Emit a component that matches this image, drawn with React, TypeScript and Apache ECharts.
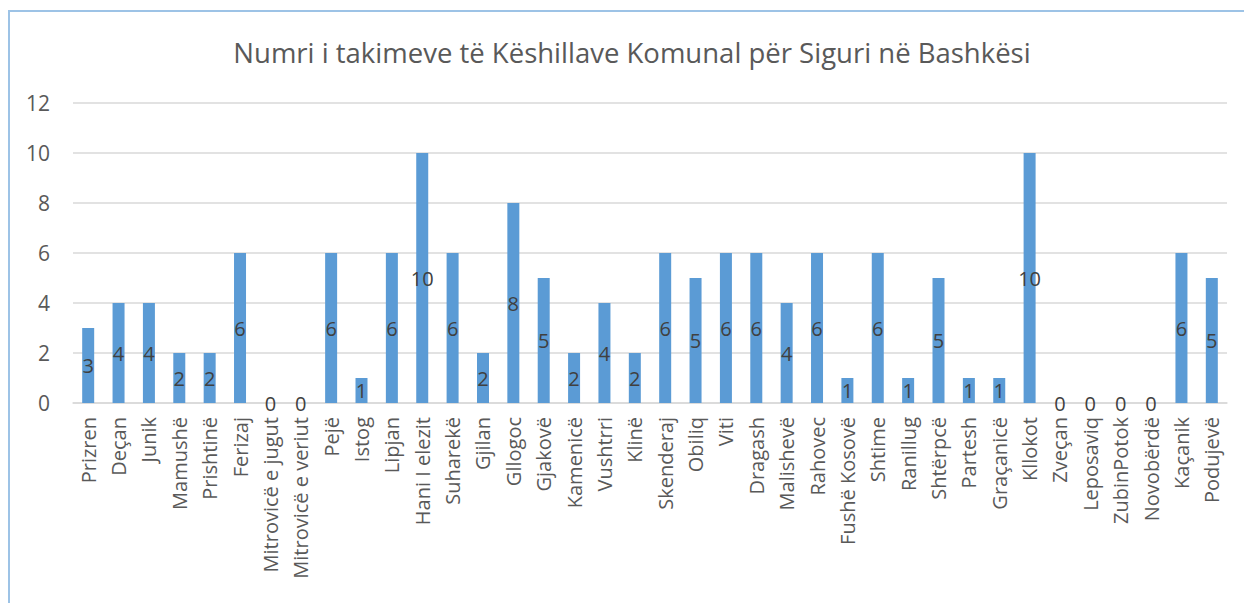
import React, { useEffect, useRef } from "react";
import * as echarts from "echarts";

const categories = [
  "Prizren", "Deçan", "Junik", "Mamushë", "Prishtinë", "Ferizaj",
  "Mitrovicë e jugut", "Mitrovicë e veriut", "Pejë", "Istog", "Lipjan",
  "Hani I elezit", "Suharekë", "Gjilan", "Gllogoc", "Gjakovë", "Kamenicë",
  "Vushtrri", "Klinë", "Skenderaj", "Obiliq", "Viti", "Dragash", "Malishevë",
  "Rahovec", "Fushë Kosovë", "Shtime", "Ranillug", "Shtërpcë", "Partesh",
  "Graçanicë", "Kllokot", "Zveçan", "Leposaviq", "ZubinPotok", "Novobërdë",
  "Kaçanik", "Podujevë",
];
const values = [
  3, 4, 4, 2, 2, 6,
  0, 0, 6, 1, 6,
  10, 6, 2, 8, 5, 2,
  4, 2, 6, 5, 6, 6, 4,
  6, 1, 6, 1, 5, 1,
  1, 10, 0, 0, 0, 0,
  6, 5,
];
const titleText = "Numri i takimeve të Këshillave Komunal për Siguri në Bashkësi";
const yMin = 0;
const yMax = 12;
const yStep = 2;

const FONT = "'Open Sans', 'Noto Sans', sans-serif";

export default function App() {
  const ref = useRef<HTMLDivElement>(null);
  useEffect(() => {
    if (!ref.current) return;
    const chart = echarts.init(ref.current, null, { renderer: "svg" });
    chart.setOption({
      animation: false,
      backgroundColor: "#ffffff",
      grid: { left: 73, right: 17, top: 103, bottom: 200, containLabel: false },
      xAxis: {
        type: "category",
        data: categories,
        axisLine: { show: true, lineStyle: { color: "#d9d9d9", width: 1.5 } },
        axisTick: { show: false },
        axisLabel: {
          rotate: 90,
          interval: 0,
          margin: 14,
          fontFamily: FONT,
          fontSize: 20,
          color: "#595959",
        },
      },
      yAxis: {
        type: "value",
        min: yMin,
        max: yMax,
        interval: yStep,
        axisLine: { show: false },
        axisTick: { show: false },
        splitLine: { lineStyle: { color: "#d9d9d9", width: 1.5 } },
        axisLabel: {
          margin: 23,
          fontFamily: FONT,
          fontSize: 21,
          color: "#595959",
        },
      },
      series: [
        {
          type: "bar",
          data: values,
          barWidth: 12,
          itemStyle: { color: "#5b9bd5" },
          label: {
            show: true,
            position: "inside",
            fontFamily: FONT,
            fontSize: 20,
            color: "#404040",
          },
        },
      ],
      graphic: [
        {
          type: "text",
          x: 632,
          y: 52,
          style: {
            text: titleText,
            align: "center",
            verticalAlign: "middle",
            fontFamily: FONT,
            fontSize: 27.5,
            fill: "#595959",
          },
        },
        {
          type: "polyline",
          shape: { points: [[9, 603], [9, 11], [1244, 11]] },
          style: { stroke: "#9dc3e6", lineWidth: 2, fill: "none" },
          z: 100,
        },
      ],
    });
    return () => chart.dispose();
  }, []);
  return (
    <div
      ref={ref}
      style={{ position: "fixed", left: 0, top: 0, width: 1244, height: 603 }}
    />
  );
}
